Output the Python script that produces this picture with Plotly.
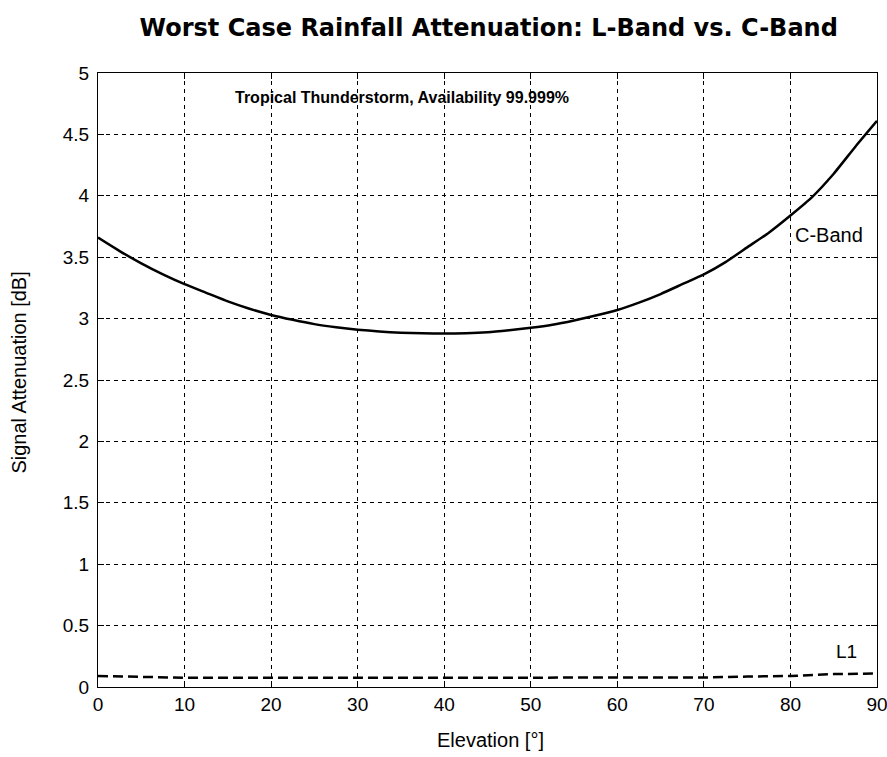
import plotly.graph_objects as go

elev = [0, 2.5, 5, 7.5, 10, 12.5, 15, 17.5, 20, 22.5, 25, 27.5, 30, 32.5, 35, 37.5, 40, 42.5, 45,
        47.5, 50, 52.5, 55, 57.5, 60, 62.5, 65, 67.5, 70, 72.5, 75, 77.5, 80, 82.5, 85, 87.5, 90]
c_band = [3.66, 3.55, 3.45, 3.36, 3.28, 3.21, 3.14, 3.08, 3.03, 2.99, 2.955, 2.93, 2.91, 2.895, 2.885, 2.88, 2.878, 2.88, 2.888,
          2.905, 2.925, 2.95, 2.985, 3.025, 3.07, 3.13, 3.2, 3.28, 3.36, 3.46, 3.58, 3.7, 3.84, 3.99, 4.18, 4.4, 4.61]
l1_elev = [0, 5, 10, 20, 30, 40, 50, 60, 70, 75, 80, 85, 90]
l1 = [0.09, 0.08, 0.075, 0.075, 0.075, 0.075, 0.075, 0.075, 0.077, 0.085, 0.09, 0.105, 0.11]

title_text = "Worst Case Rainfall Attenuation: L-Band vs. C-Band"
subtitle_text = "Tropical Thunderstorm, Availability 99.999%"
x_title = "Elevation [°]"
y_title = "Signal Attenuation [dB]"
x_ticks = [0, 10, 20, 30, 40, 50, 60, 70, 80, 90]
y_ticks = [0, 0.5, 1, 1.5, 2, 2.5, 3, 3.5, 4, 4.5, 5]
y_tick_labels = ["0", "0.5", "1", "1.5", "2", "2.5", "3", "3.5", "4", "4.5", "5"]

fig = go.Figure()
fig.add_trace(go.Scatter(x=elev, y=c_band, mode="lines",
                         line=dict(color="black", width=2.5, shape="spline", smoothing=0.5),
                         name="C-Band", showlegend=False))
fig.add_trace(go.Scatter(x=l1_elev, y=l1, mode="lines",
                         line=dict(color="black", width=2.5, dash="10px,5px"),
                         name="L1", showlegend=False))

font = "Liberation Sans, Arial, sans-serif"
axis_common = dict(
    showline=True, linecolor="black", linewidth=1, mirror="ticks",
    ticks="inside", ticklen=6, tickcolor="black",
    showgrid=True, gridcolor="black", gridwidth=1, griddash="4px,4px",
    zeroline=False, tickfont=dict(family=font, size=19, color="black"),
    ticklabeloverflow="allow", automargin=False,
)
fig.update_xaxes(range=[0, 90], tickvals=x_ticks, **axis_common)
fig.update_yaxes(range=[0, 5], tickvals=y_ticks, ticktext=y_tick_labels, ticklabelstandoff=4, **axis_common)

# plot area: x 97.5..877.5 px, y 72.5..687.5 px
fig.add_annotation(x=(491 - 97.5) / 780, y=(687.5 - 741) / 615, xref="paper", yref="paper", text=x_title,
                   showarrow=False, xanchor="center", yanchor="middle",
                   font=dict(family=font, size=20, color="black"))
fig.add_annotation(x=(18 - 97.5) / 780, y=(687.5 - 373) / 615, xref="paper", yref="paper", text=y_title,
                   textangle=-90, showarrow=False, xanchor="center", yanchor="middle",
                   font=dict(family=font, size=20, color="black"))
fig.add_annotation(x=35.1, y=4.80, xref="x", yref="y", text="<b>" + subtitle_text + "</b>",
                   showarrow=False, font=dict(family=font, size=16, color="black"))
fig.add_annotation(x=80.3, y=3.68, xref="x", yref="y", text="C-Band", showarrow=False,
                   xanchor="left", font=dict(family=font, size=20, color="black"))
fig.add_annotation(x=85.0, y=0.29, xref="x", yref="y", text="L1", showarrow=False,
                   xanchor="left", font=dict(family=font, size=19, color="black"))

fig.update_layout(
    width=887, height=757,
    margin=dict(l=97.5, r=9.5, t=72.5, b=69.5, autoexpand=False),
    paper_bgcolor="white", plot_bgcolor="white",
    title=dict(text="<b>" + title_text + "</b>", x=0.551, xanchor="center", y=1 - 28/757, yanchor="middle",
               font=dict(family="DejaVu Sans, sans-serif", size=24, color="black")),
)
fig.write_html("out.html")
